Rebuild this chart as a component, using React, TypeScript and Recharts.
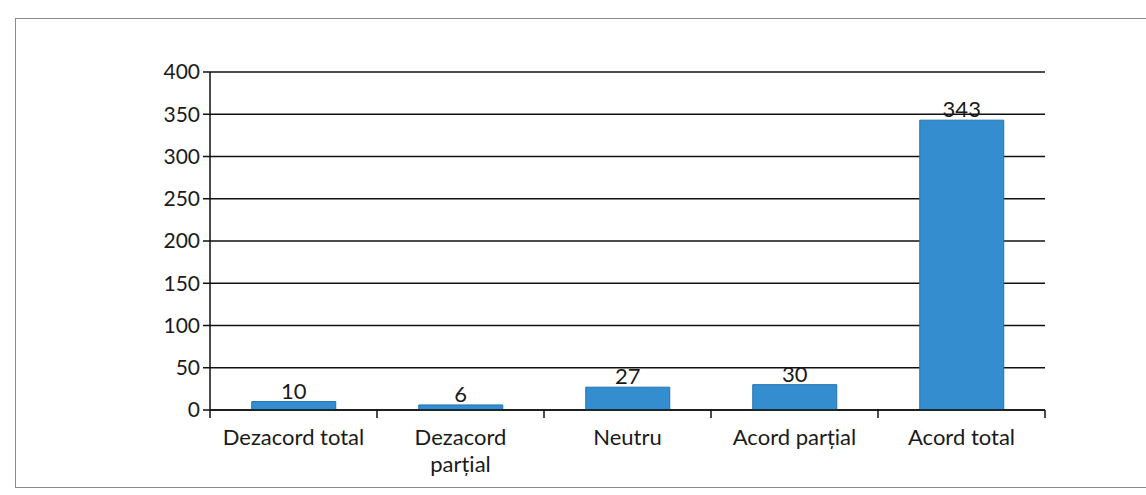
import { BarChart, Bar, XAxis, YAxis, CartesianGrid, LabelList } from "recharts";

const categories = ["Dezacord total", "Dezacord\nparțial", "Neutru", "Acord parțial", "Acord total"];
const counts = [10, 6, 27, 30, 343];
const yTicks = [0, 50, 100, 150, 200, 250, 300, 350, 400];

const data = categories.map((name, i) => ({ name, value: counts[i] }));

const FONT = "Lato, 'Open Sans', sans-serif";
const W = 1146;
const H = 495;
const LEFT = 210;
const RIGHT = 101;
const band = (W - LEFT - RIGHT) / categories.length;

function CategoryTick(props: any) {
  const { x, y, payload, index } = props;
  const lines = String(payload.value).split("\n");
  return (
    <g>
      <line x1={x - band / 2} y1={y - 8} x2={x - band / 2} y2={y} stroke="#111" strokeWidth={1.5} />
      {index === categories.length - 1 && (
        <line x1={x + band / 2} y1={y - 8} x2={x + band / 2} y2={y} stroke="#111" strokeWidth={1.5} />
      )}
      <text x={x} y={y + 27} textAnchor="middle" fill="#1a1a1a" fontSize={22} fontFamily={FONT}>
        {lines.map((l, i) => (
          <tspan key={i} x={x} dy={i === 0 ? 0 : 27}>
            {l}
          </tspan>
        ))}
      </text>
    </g>
  );
}

export default function App() {
  return (
    <div style={{ position: "absolute", left: 0, top: 0, width: W, height: H, background: "#fff" }}>
      <div
        style={{
          position: "absolute",
          left: 15,
          top: 18,
          width: W - 15,
          height: 468,
          border: "1.5px solid #8a8a8a",
          borderRight: "none",
        }}
      />
      <div style={{ position: "absolute", left: 0, top: 0 }}>
        <BarChart
          width={W}
          height={H}
          data={data}
          margin={{ top: 72, right: RIGHT, bottom: 10, left: 0 }}
          barCategoryGap="25%"
        >
          <CartesianGrid vertical={false} stroke="#111" strokeWidth={1.5} />
          <XAxis
            dataKey="name"
            height={75}
            axisLine={{ stroke: "#111", strokeWidth: 1.5 }}
            tickLine={false}
            tick={<CategoryTick />}
            interval={0}
          />
          <YAxis
            width={LEFT}
            domain={[0, 400]}
            ticks={yTicks}
            interval={0}
            axisLine={{ stroke: "#111", strokeWidth: 1.5 }}
            tickLine={{ stroke: "#111", strokeWidth: 1.5 }}
            tickSize={7}
            tickMargin={3}
            tick={{ fill: "#1a1a1a", fontSize: 21, fontFamily: FONT }}
          />
          <Bar dataKey="value" fill="#338dcf" stroke="#2272b4" strokeWidth={1} isAnimationActive={false}>
            <LabelList
              dataKey="value"
              position="top"
              offset={3}
              fill="#1a1a1a"
              fontSize={22}
              fontFamily={FONT}
            />
          </Bar>
        </BarChart>
      </div>
    </div>
  );
}
